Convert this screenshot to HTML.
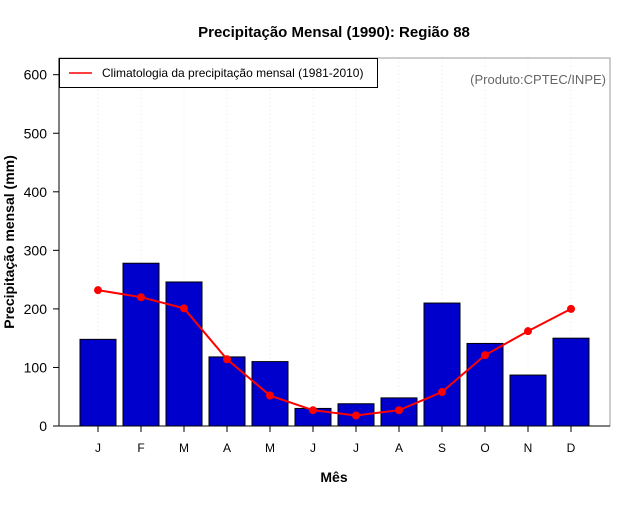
<!DOCTYPE html>
<html><head><meta charset="utf-8"><style>
body{margin:0;background:#fff}
svg text{font-family:"Liberation Sans",sans-serif}
</style></head><body>
<svg id="c" width="640" height="500" xmlns="http://www.w3.org/2000/svg">
<rect width="640" height="500" fill="#fff"/>
<text x="334" y="37" text-anchor="middle" font-size="15" font-weight="bold">Precipitação Mensal (1990): Região 88</text>
<text x="334" y="482" text-anchor="middle" font-size="14" font-weight="bold">Mês</text>
<text transform="translate(14,242) rotate(-90)" text-anchor="middle" font-size="14" font-weight="bold">Precipitação mensal (mm)</text>
<g id="grid"></g><g id="bars"></g><g id="line"></g><g id="axes"></g>
<rect x="59" y="58" width="551" height="368" fill="none" stroke="#999" stroke-width="1"/>
<line x1="59" y1="58" x2="59" y2="426" stroke="#000"/>
<line x1="59" y1="426" x2="610" y2="426" stroke="#000"/>
<g>
<rect x="59.5" y="58.5" width="318" height="29" fill="#fff" stroke="#000"/>
<line x1="69" y1="73" x2="92" y2="73" stroke="red" stroke-width="1.5"/>
<text x="102" y="77" font-size="12">Climatologia da precipitação mensal (1981-2010)</text>
</g>
<text x="606" y="84" text-anchor="end" font-size="13" fill="#666">(Produto:CPTEC/INPE)</text>
</svg>
<script>
const months=["J","F","M","A","M","J","J","A","S","O","N","D"];
const precip=[148,278,246,118,110,30,38,48,210,141,87,150];
const climatology=[232,220,201,114,52,27,18,27,58,121,162,200];
const yTicks=[0,100,200,300,400,500,600];
const NS="http://www.w3.org/2000/svg";
const xS=i=>98+43*i;
const yS=v=>426-v*0.5855;
function mk(tag,attrs,parent,txt){const e=document.createElementNS(NS,tag);for(const k in attrs)e.setAttribute(k,attrs[k]);if(txt!==undefined)e.textContent=txt;document.getElementById(parent).appendChild(e);return e;}
months.forEach((m,i)=>{
  const g=mk("line",{x1:xS(i),x2:xS(i),y1:58,y2:426,stroke:"#e8e8e8","stroke-dasharray":"1,3"},"grid");
  
  
  const b=mk("rect",{x:xS(i)-18,y:yS(precip[i]),width:36,height:426-yS(precip[i]),fill:"#0000cd",stroke:"#000"},"bars");
  
  
  const t=mk("line",{x1:xS(i),x2:xS(i),y1:426,y2:432,stroke:"#000"},"axes");
  
  
  const l=mk("text",{x:xS(i),y:452,"text-anchor":"middle","font-size":"12"},"axes",m);
  
  
});
yTicks.forEach(v=>{
  const t=mk("line",{x1:53,x2:59,y1:yS(v),y2:yS(v),stroke:"#000"},"axes");
  
  
  const l=mk("text",{x:47,y:yS(v)+5,"text-anchor":"end","font-size":"14"},"axes",v);
  
  
});
const pl=mk("polyline",{points:climatology.map((v,i)=>xS(i)+","+yS(v)).join(" "),fill:"none",stroke:"red","stroke-width":"2"},"line");


climatology.forEach((v,i)=>{
  const c=mk("circle",{cx:xS(i),cy:yS(v),r:4,fill:"red"},"line");
  
  
});
</script>
</body></html>
